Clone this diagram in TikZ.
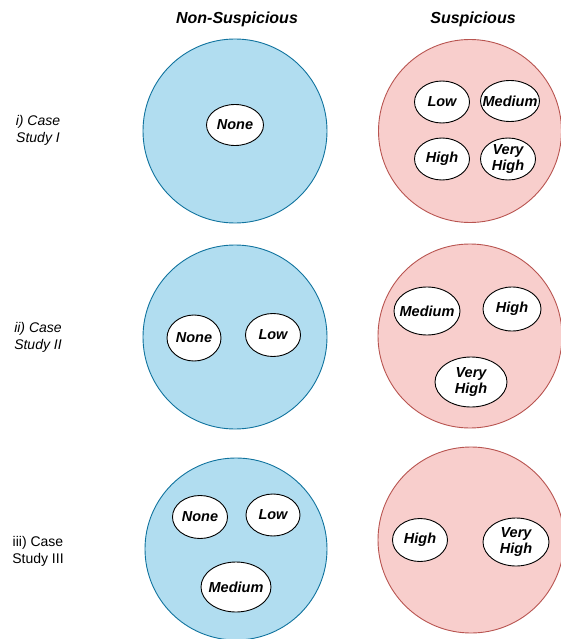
\documentclass[tikz,border=0pt]{standalone}
\usepackage{fontspec}
\setmainfont{Liberation Sans}
\usetikzlibrary{shapes.geometric}
\definecolor{bluefill}{HTML}{B1DDF0}
\definecolor{bluedraw}{HTML}{10739E}
\definecolor{redfill}{HTML}{F8CECC}
\definecolor{reddraw}{HTML}{B85450}
\tikzset{
  bigblue/.style={circle, draw=bluedraw, fill=bluefill, line width=0.9pt, minimum size=#1, inner sep=0pt},
  bigred/.style={circle, draw=reddraw, fill=redfill, line width=0.9pt, minimum size=#1, inner sep=0pt},
  lvlshape/.style 2 args={ellipse, draw=black, fill=white, line width=0.9pt, minimum width=#1, minimum height=#2, inner sep=0pt},
  lvltext/.style={inner sep=0pt, align=center, font=\fontsize{14.5}{16}\selectfont\bfseries\itshape},
  title/.style={font=\fontsize{16}{18}\selectfont\bfseries\itshape},
  side/.style={align=center, font=\fontsize{14}{17}\selectfont\itshape},
  sideup/.style={align=center, font=\fontsize{14}{17}\selectfont},
}
\newcommand\lvlnode[5]{%
  \node[lvlshape={#2}{#3}] (#1) at (#4) {};
  \node[lvltext] (#1t) at (#1.center) {#5};}
\begin{document}
\begin{tikzpicture}[x=1pt,y=-1pt]
\useasboundingbox (0,0) rectangle (560,639);
% titles
\node[title] (tns) at (237,19) {Non-Suspicious};
\node[title] (ts) at (473,19) {Suspicious};
% row labels
\node[side] (l1) at (38,130) {i) Case\\Study I};
\node[side] (l2) at (38,337) {ii) Case\\Study II};
\node[sideup] (l3) at (38,551) {iii) Case\\Study III};
% row 1
\node[bigblue=184pt] (b1) at (235,131) {};
\node[bigred=183pt] (r1) at (470,131) {};
\lvlnode{b1none}{57pt}{41pt}{235,125}{None}
\lvlnode{r1low}{55pt}{42pt}{442,102}{Low}
\lvlnode{r1med}{59pt}{41pt}{510,101}{Medium}
\lvlnode{r1high}{55pt}{42pt}{442,159}{High}
\lvlnode{r1vh}{55pt}{42pt}{508,159}{Very\\High}
% row 2
\node[bigblue=184pt] (b2) at (235,337) {};
\node[bigred=184pt] (r2) at (470,336) {};
\lvlnode{b2none}{54pt}{46pt}{194,338}{None}
\lvlnode{b2low}{55pt}{43pt}{273,335}{Low}
\lvlnode{r2med}{66pt}{48pt}{427,311}{Medium}
\lvlnode{r2high}{58pt}{44pt}{512,309}{High}
\lvlnode{r2vh}{72pt}{50pt}{471,382}{Very\\High}
% row 3
\node[bigblue=182pt] (b3) at (236,549) {};
\node[bigred=186pt] (r3) at (471,540) {};
\lvlnode{b3none}{55pt}{43pt}{200,517}{None}
\lvlnode{b3low}{54pt}{42pt}{273,515}{Low}
\lvlnode{b3med}{70pt}{50pt}{236,587}{Medium}
\lvlnode{r3high}{55pt}{43pt}{420,540}{High}
\lvlnode{r3vh}{66pt}{48pt}{516,542}{Very\\High}
\end{tikzpicture}
\end{document}
